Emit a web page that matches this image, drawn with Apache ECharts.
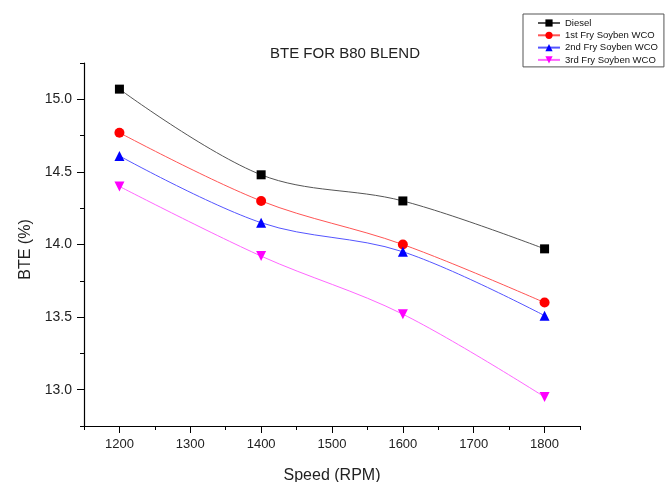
<!DOCTYPE html>
<html>
<head>
<meta charset="utf-8">
<script src="https://cdn.jsdelivr.net/npm/echarts@6/dist/echarts.min.js"></script>
<style>html,body{margin:0;padding:0;background:#fff}#c{width:665px;height:482px}</style>
</head>
<body>
<div id="c"></div>
<script>
var speeds = [1200, 1400, 1600, 1800];
var diesel = [15.07, 14.48, 14.30, 13.97];
var fry1 = [14.77, 14.30, 14.00, 13.60];
var fry2 = [14.61, 14.15, 13.95, 13.51];
var fry3 = [14.40, 13.92, 13.52, 12.95];
var seriesNames = ['Diesel', '1st Fry Soyben WCO', '2nd Fry Soyben WCO', '3rd Fry Soyben WCO'];
var xMajor = [1200, 1300, 1400, 1500, 1600, 1700, 1800];
var xMinor = [1150, 1250, 1350, 1450, 1550, 1650, 1750, 1850];
var yMajor = [13.0, 13.5, 14.0, 14.5, 15.0];
var yMinor = [12.75, 13.25, 13.75, 14.25, 14.75, 15.25];

function pairs(vals) { return speeds.map(function (s, i) { return [s, vals[i]]; }); }

var font = 'Liberation Sans, Arial, sans-serif';
var colors = ['#000000', '#ff0000', '#0000ff', '#ff00ff'];
var lineColors = ['#555555', '#ff5555', '#5555ff', '#ff66ff'];
var symbols = ['rect', 'circle', 'triangle', 'triangle'];
var rot = [0, 0, 0, 180];
var sizes = [9, 10, 10, 10];
var datas = [diesel, fry1, fry2, fry3];

var chart = echarts.init(document.getElementById('c'));
chart.setOption({
  animation: false,
  backgroundColor: '#fff',
  title: {
    text: 'BTE FOR B80 BLEND',
    left: 340, top: 41, textAlign: 'center',
    textStyle: { fontFamily: font, fontSize: 15, fontWeight: 'normal', color: '#222' }
  },
  legend: {
    orient: 'vertical', left: 523, top: 14,
    padding: [4, 6, 2, 14],
    borderColor: '#555', borderWidth: 1,
    itemGap: 2.3, itemWidth: 22, itemHeight: 9,
    textStyle: { fontFamily: font, fontSize: 9.5, color: '#111' },
    data: seriesNames
  },
  grid: { left: 84, right: 85, top: 63, bottom: 56, containLabel: false, outerBoundsMode: 'none' },
  xAxis: [{
    type: 'value', min: 1150, max: 1850,
    name: 'Speed (RPM)', nameLocation: 'middle', nameGap: 42,
    nameTextStyle: { fontFamily: font, fontSize: 16, color: '#222' },
    axisLine: { lineStyle: { color: '#000', width: 1.2 } },
    axisTick: { customValues: xMajor, length: 7, lineStyle: { color: '#000' } },
    axisLabel: { customValues: xMajor, margin: 12, fontFamily: font, fontSize: 13, color: '#222',
      formatter: function (v) { return String(v); } },
    splitLine: { show: false }
  }, {
    type: 'value', min: 1150, max: 1850, position: 'bottom',
    axisLine: { show: false },
    axisTick: { show: true, customValues: xMinor, length: 4, lineStyle: { color: '#000' } },
    axisLabel: { show: false },
    splitLine: { show: false }
  }],
  yAxis: [{
    type: 'value', min: 12.75, max: 15.25,
    name: 'BTE (%)', nameLocation: 'middle', nameGap: 50, nameRotate: 90,
    nameTextStyle: { fontFamily: font, fontSize: 16, color: '#222', padding: [0, 0, 0, -10] },
    axisLine: { show: true, lineStyle: { color: '#000', width: 1.2 } },
    axisTick: { show: true, customValues: yMajor, length: 7, lineStyle: { color: '#000' } },
    axisLabel: { customValues: yMajor, margin: 12, fontFamily: font, fontSize: 14, color: '#222',
      formatter: function (v) { return v.toFixed(1); } },
    splitLine: { show: false }
  }, {
    type: 'value', min: 12.75, max: 15.25, position: 'left', offset: 0,
    axisLine: { show: false },
    axisTick: { show: true, customValues: yMinor, length: 4, lineStyle: { color: '#000' } },
    axisLabel: { show: false },
    splitLine: { show: false }
  }],
  series: datas.map(function (d, i) {
    return {
      name: seriesNames[i], type: 'line', smooth: 0.35,
      data: pairs(d),
      symbol: symbols[i], symbolSize: sizes[i], symbolRotate: rot[i],
      itemStyle: { color: colors[i] },
      lineStyle: { color: lineColors[i], width: 1 },
      z: 3
    };
  })
});
</script>
</body>
</html>
